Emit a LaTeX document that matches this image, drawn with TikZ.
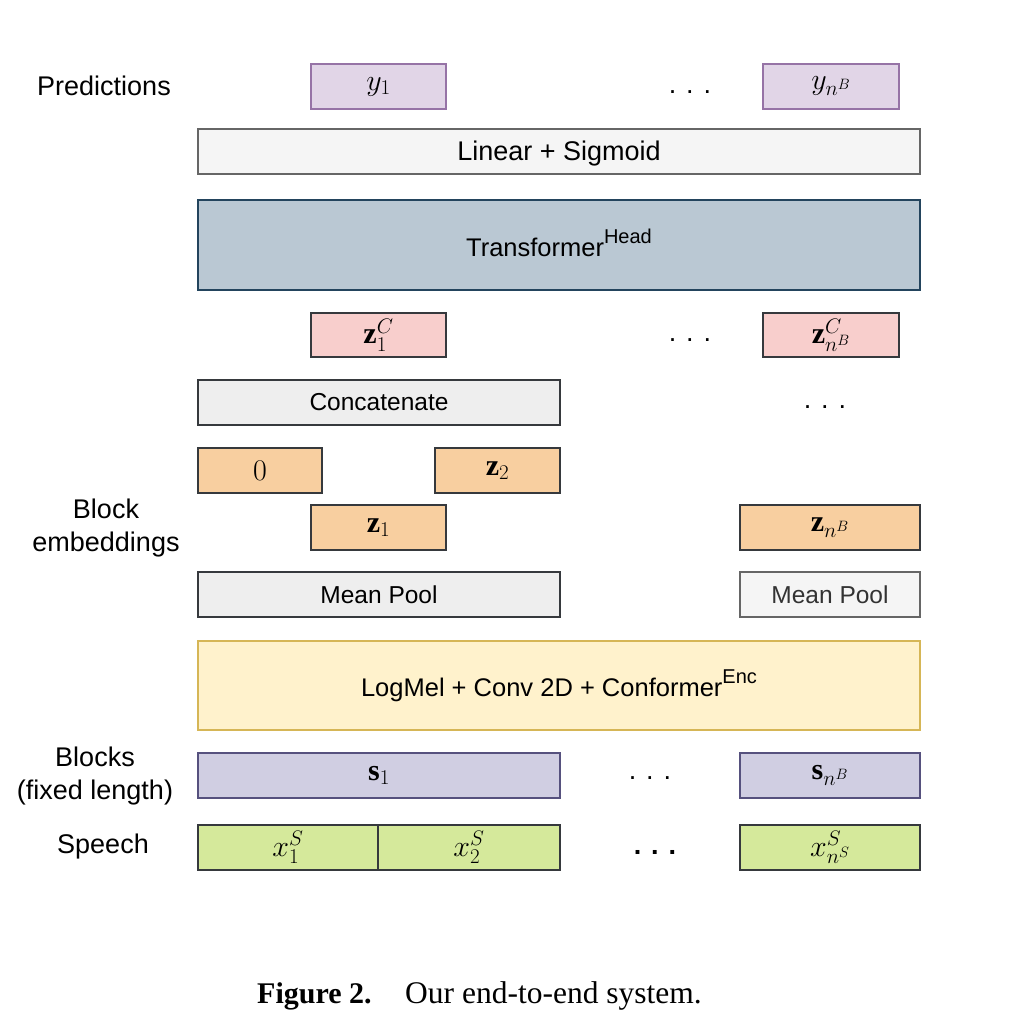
\RequirePackage{fix-cm}
\documentclass[tikz,border=0pt]{standalone}
\usepackage{fontspec}
\setmainfont{Liberation Serif}
\newfontfamily\arial{Liberation Sans}
\definecolor{predF}{HTML}{E1D5E7}\definecolor{predD}{HTML}{9673A6}
\definecolor{greyF}{HTML}{F5F5F5}\definecolor{greyD}{HTML}{666666}
\definecolor{trF}{HTML}{BAC8D3}\definecolor{trD}{HTML}{23445D}
\definecolor{redF}{HTML}{F8CECC}\definecolor{darkD}{HTML}{36393D}
\definecolor{concF}{HTML}{EEEEEE}
\definecolor{orF}{HTML}{F8CFA0}
\definecolor{yelF}{HTML}{FFF2CC}\definecolor{yelD}{HTML}{D6B656}
\definecolor{blkF}{HTML}{D0CEE2}\definecolor{blkD}{HTML}{56517E}
\definecolor{grnF}{HTML}{D5E99B}
\definecolor{txtG}{HTML}{333333}
\tikzset{
  box/.style={draw, line width=1.5pt, inner sep=0pt, font=\fontsize{30}{34}\selectfont},
  predbox/.style={box, fill=predF, draw=predD},
  greybox/.style={box, fill=greyF, draw=greyD},
  trbox/.style={box, fill=trF, draw=trD},
  redbox/.style={box, fill=redF, draw=darkD},
  concbox/.style={box, fill=concF, draw=darkD},
  orbox/.style={box, fill=orF, draw=darkD},
  yelbox/.style={box, fill=yelF, draw=yelD},
  blkbox/.style={box, fill=blkF, draw=blkD},
  grnbox/.style={box, fill=grnF, draw=darkD},
  sidelabel/.style={align=center, inner sep=0pt, font=\arial\fontsize{27}{33}\selectfont},
  dotsnode/.style={inner sep=0pt, font=\arial\fontsize{27}{30}\selectfont},
}
\newcommand{\capc}[1]{\vphantom{H}\smash{#1}}
\newcommand{\sansA}[1]{{\arial\fontsize{27}{30}\selectfont\capc{#1}}}
\newcommand{\sansB}[1]{{\arial\fontsize{25.5}{30}\selectfont #1}}
\newcommand{\sansC}[1]{{\arial\fontsize{24.5}{30}\selectfont #1}}
\newcommand{\supsans}[1]{\raisebox{0.5em}{\arial\fontsize{20}{20}\selectfont #1}}
\begin{document}
\begin{tikzpicture}[x=1pt,y=-1pt]
\useasboundingbox (0,0) rectangle (1016,1034);
% side labels
\node[sidelabel] (lpred) at (104,86) {Predictions};
\node[sidelabel] (lemb) at (106,528) {Block\\embeddings};
\node[sidelabel] (lblk) at (95,776) {Blocks\\(fixed length)};
\node[sidelabel] (lsp) at (103,847) {Speech};
% predictions
\node[predbox, minimum width=135pt, minimum height=45pt] (y1) at (378.5,86.5) {$y_1$};
\node[predbox, minimum width=136pt, minimum height=45pt] (yn) at (831,86.5) {$y_{n^B}$};
\node[dotsnode] (d1) at (690,92) {. . .};
% linear
\node[greybox, minimum width=722pt, minimum height=45pt] (lin) at (559,151.5) {\sansA{Linear + Sigmoid}};
% transformer
\node[trbox, minimum width=722pt, minimum height=90pt] (tr) at (559,245) {\raisebox{4pt}{\sansB{Transformer\supsans{Head}}}};
% zC
\node[redbox, minimum width=135pt, minimum height=44pt] (zc1) at (378.5,335) {$\mathbf{z}_1^C$};
\node[redbox, minimum width=136pt, minimum height=44pt] (zcn) at (831,335) {$\mathbf{z}_{n^B}^C$};
\node[dotsnode] (d2) at (690,340) {. . .};
% concatenate
\node[concbox, minimum width=362pt, minimum height=45pt] (conc) at (379,402.5) {\sansC{Concatenate}};
\node[dotsnode] (d3) at (825,407) {. . .};
% block embeddings
\node[orbox, minimum width=124pt, minimum height=45pt] (z0) at (260,470.5) {$0$};
\node[orbox, minimum width=125pt, minimum height=45pt] (z2) at (497.5,470.5) {$\mathbf{z}_2$};
\node[orbox, minimum width=135pt, minimum height=45pt] (z1) at (378.5,527.5) {$\mathbf{z}_1$};
\node[orbox, minimum width=180pt, minimum height=45pt] (zn) at (830,527.5) {$\mathbf{z}_{n^B}$};
% mean pool
\node[concbox, minimum width=362pt, minimum height=45pt] (mp1) at (379,594.5) {\sansC{Mean Pool}};
\node[greybox, minimum width=180pt, minimum height=45pt, text=txtG] (mp2) at (830,594.5) {\sansC{Mean Pool}};
% encoder
\node[yelbox, minimum width=722pt, minimum height=89pt] (enc) at (559,685.5) {\sansB{LogMel + Conv 2D + Conformer\supsans{Enc}}};
% blocks
\node[blkbox, minimum width=362pt, minimum height=45pt] (s1) at (379,775.5) {$\mathbf{s}_1$};
\node[blkbox, minimum width=180pt, minimum height=45pt] (sn) at (830,775.5) {$\mathbf{s}_{n^B}$};
\node[dotsnode] (d4) at (650,778) {. . .};
% speech
\node[grnbox, minimum width=180pt, minimum height=45pt] (x1) at (288,847.5) {$x_1^S$};
\node[grnbox, minimum width=182pt, minimum height=45pt] (x2) at (469,847.5) {$x_2^S$};
\node[grnbox, minimum width=180pt, minimum height=45pt] (xn) at (830,847.5) {$x_{n^S}^S$};
\node[dotsnode, font=\arial\bfseries\fontsize{27}{30}\selectfont] (d5) at (655,852) {. . .};
% caption
\node[anchor=base west, inner sep=0pt, font=\fontsize{30}{34}\selectfont\bfseries] (cap1) at (257,1003) {Figure 2.};
\node[anchor=base west, inner sep=0pt, font=\fontsize{31.5}{34}\selectfont] (cap2) at (405,1003) {Our end-to-end system.};
\end{tikzpicture}
\end{document}
